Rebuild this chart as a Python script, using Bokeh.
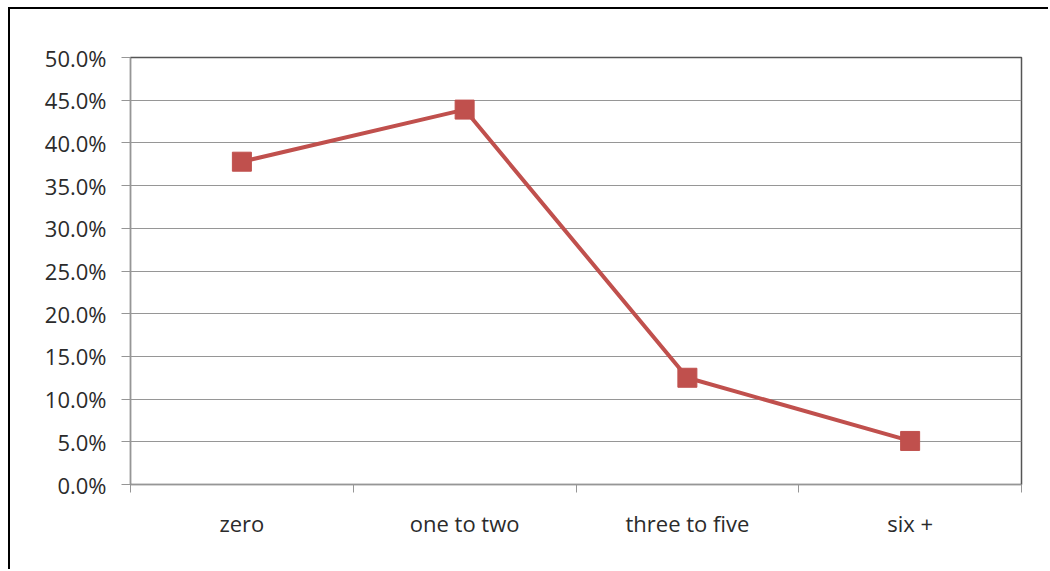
from bokeh.plotting import figure
from bokeh.models import Range1d, FixedTicker, NumeralTickFormatter
from bokeh.embed import file_html
from bokeh.resources import INLINE

categories = ["zero", "one to two", "three to five", "six +"]
values = [0.378, 0.439, 0.125, 0.051]
y_ticks = [0.0, 0.05, 0.10, 0.15, 0.20, 0.25, 0.30, 0.35, 0.40, 0.45, 0.50]

FONT = "Open Sans"
xs = [i + 0.5 for i in range(len(categories))]

p = figure(width=1040, height=562, output_backend="svg", toolbar_location=None,
           x_range=Range1d(0, len(categories)), y_range=Range1d(0, 0.5),
           min_border_left=120, min_border_right=29, min_border_top=48, min_border_bottom=87)
p.margin = (7, 0, 0, 8)
p.styles = {"border-left": "2px solid black", "border-top": "2px solid black"}
p.background_fill_color = "white"
p.border_fill_color = "white"
p.outline_line_color = "#555555"
p.outline_line_width = 1.5

p.line(xs, values, line_color="#C0504D", line_width=4)
p.scatter(xs, values, marker="square", size=19, fill_color="#C0504D", line_color="#C0504D")

# y axis
p.yaxis.ticker = FixedTicker(ticks=y_ticks)
p.yaxis.formatter = NumeralTickFormatter(format="0.0%")
p.yaxis.axis_line_color = "#969696"
p.yaxis.major_tick_line_color = "#969696"
p.yaxis.major_tick_out = 9
p.yaxis.major_tick_in = 0
p.yaxis.minor_tick_line_color = None
p.yaxis.major_label_text_font = FONT
p.yaxis.major_label_text_font_size = "22px"
p.yaxis.major_label_text_color = "#2b2b2b"
p.yaxis.major_label_standoff = 15

# x axis
p.xaxis.ticker = FixedTicker(ticks=xs, minor_ticks=list(range(len(categories) + 1)))
p.xaxis.major_label_overrides = {x: c for x, c in zip(xs, categories)}
p.xaxis.axis_line_color = "#969696"
p.xaxis.major_tick_line_color = None
p.xaxis.minor_tick_line_color = "#969696"
p.xaxis.minor_tick_out = 8
p.xaxis.minor_tick_in = 0
p.xaxis.major_label_text_font = FONT
p.xaxis.major_label_text_font_size = "22px"
p.xaxis.major_label_text_color = "#2b2b2b"
p.xaxis.major_label_standoff = 15

p.xgrid.grid_line_color = None
p.ygrid.ticker = FixedTicker(ticks=y_ticks)
p.ygrid.grid_line_color = "#969696"
p.ygrid.grid_line_width = 1

open("out.html", "w").write(file_html(p, INLINE))
